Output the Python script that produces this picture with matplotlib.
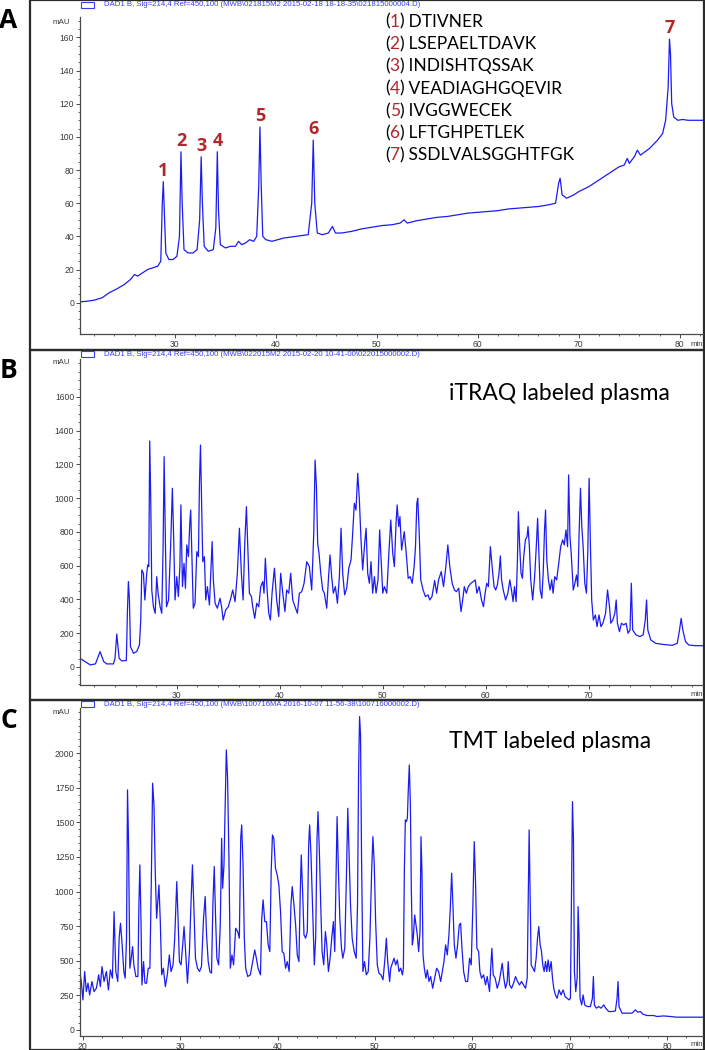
import numpy as np
import matplotlib
matplotlib.use("Agg")
import matplotlib.pyplot as plt
from matplotlib.patches import Rectangle
from matplotlib.ticker import MultipleLocator

# ---------------- data ----------------
# Panel A: standard peptide mix (time [min], absorbance [mAU])
trace_A = [
    (20.6, 0.5), (21.2, 0.8), (22.0, 1.5), (22.8, 3), (23.5, 6), (24.3, 8.5), (25.0, 11),
    (25.6, 14), (26.0, 17), (26.3, 16), (26.8, 18), (27.3, 20), (27.8, 21), (28.3, 22),
    (28.6, 25), (28.75, 60), (28.85, 73), (28.95, 55), (29.1, 30), (29.4, 26), (29.8, 26),
    (30.2, 28), (30.45, 40), (30.6, 91), (30.72, 60), (30.9, 32), (31.3, 30), (31.8, 30),
    (32.2, 32), (32.45, 50), (32.6, 88), (32.72, 60), (32.9, 34), (33.3, 31), (33.8, 32),
    (34.05, 45), (34.2, 91), (34.32, 55), (34.5, 35), (35.0, 33), (35.5, 34), (36.0, 34),
    (36.3, 37), (36.6, 35), (37.0, 36), (37.4, 38), (37.8, 37), (38.1, 40), (38.3, 70),
    (38.42, 106), (38.55, 70), (38.7, 40), (39.0, 38), (39.6, 37), (40.2, 38), (40.8, 39),
    (41.4, 39.5), (42.0, 40), (42.6, 40.5), (43.2, 41), (43.55, 60), (43.7, 98), (43.85, 60),
    (44.1, 42), (44.6, 41), (45.2, 42), (45.6, 46), (45.9, 42), (46.5, 42), (47.5, 43),
    (48.5, 44.5), (49.5, 45.5), (50.5, 46.5), (51.5, 47), (52.3, 48), (52.7, 50), (53.0, 48),
    (54.0, 49.5), (55.0, 50.5), (56.0, 51.5), (57.0, 52), (58.0, 53), (59.0, 54), (60.0, 54.5),
    (61.0, 55), (62.0, 55.5), (63.0, 56.5), (64.0, 57), (65.0, 57.5), (66.0, 58), (67.0, 59),
    (67.7, 60), (68.0, 72), (68.15, 75), (68.35, 65), (68.8, 63), (69.5, 65), (70.0, 67),
    (71.0, 70), (72.0, 74), (73.0, 78), (74.0, 82), (74.5, 83), (74.8, 87), (75.0, 84),
    (75.5, 88), (75.8, 92), (76.1, 89), (77.0, 93), (77.8, 98), (78.3, 102), (78.6, 110),
    (78.85, 130), (78.98, 159), (79.08, 150), (79.2, 120), (79.4, 112), (79.8, 110),
    (80.3, 110.5), (80.8, 110), (81.5, 110), (82.3, 110),
]

# Panel B: iTRAQ labeled plasma
trace_B = [
    (20.6, 51), (21.6, 12), (22.1, 18), (22.55, 91), (22.9, 32), (23.2, 18), (23.85, 18),
    (24.0, 51), (24.17, 195), (24.4, 51), (24.65, 36), (25.1, 38), (25.2, 318), (25.3, 506),
    (25.4, 397), (25.5, 120), (25.8, 81), (26.1, 91), (26.37, 130), (26.5, 278), (26.6, 575),
    (26.76, 555), (26.9, 397), (27.08, 555), (27.18, 605), (27.28, 595), (27.37, 1339),
    (27.47, 990), (27.57, 456), (27.73, 357), (27.9, 318), (28.05, 535), (28.18, 437),
    (28.38, 357), (28.54, 318), (28.67, 713), (28.77, 1246), (28.9, 713), (29.0, 357),
    (29.2, 397), (29.4, 713), (29.57, 1059), (29.7, 753), (29.83, 397), (30.0, 535),
    (30.15, 417), (30.3, 595), (30.4, 960), (30.55, 476), (30.7, 614), (30.84, 466),
    (30.97, 723), (31.13, 654), (31.26, 851), (31.35, 930), (31.48, 614), (31.6, 348),
    (31.77, 377), (31.94, 683), (32.1, 654), (32.2, 1088), (32.3, 1315), (32.4, 990),
    (32.52, 624), (32.68, 654), (32.81, 397), (32.97, 476), (33.17, 367), (33.3, 555),
    (33.43, 743), (33.55, 516), (33.72, 377), (33.94, 348), (34.2, 407), (34.37, 348),
    (34.5, 278), (34.75, 338), (35.0, 357), (35.24, 407), (35.43, 456), (35.66, 387),
    (35.88, 555), (36.08, 822), (36.27, 555), (36.44, 397), (36.6, 733), (36.76, 950),
    (36.89, 713), (37.05, 437), (37.25, 417), (37.37, 357), (37.57, 288), (37.76, 377),
    (37.96, 357), (38.15, 476), (38.35, 506), (38.47, 437), (38.6, 644), (38.77, 456),
    (38.93, 318), (39.09, 278), (39.25, 437), (39.48, 585), (39.7, 397), (39.9, 298),
    (40.09, 555), (40.29, 437), (40.5, 328), (40.67, 456), (40.87, 437), (41.06, 555),
    (41.26, 397), (41.48, 357), (41.71, 318), (41.9, 437), (42.13, 446), (42.36, 496),
    (42.62, 624), (42.87, 595), (43.1, 456), (43.3, 792), (43.43, 1226), (43.56, 1069),
    (43.68, 733), (43.81, 674), (43.98, 555), (44.17, 456), (44.33, 437), (44.56, 348),
    (44.72, 516), (44.88, 664), (45.04, 535), (45.2, 437), (45.4, 476), (45.6, 377),
    (45.79, 535), (45.95, 822), (46.11, 555), (46.3, 427), (46.5, 466), (46.7, 585),
    (46.92, 634), (47.08, 792), (47.24, 970), (47.4, 930), (47.57, 1148), (47.73, 990),
    (47.89, 753), (48.05, 575), (48.22, 713), (48.38, 822), (48.54, 555), (48.7, 496),
    (48.86, 624), (49.02, 437), (49.19, 535), (49.35, 437), (49.54, 516), (49.7, 812),
    (49.87, 595), (50.0, 437), (50.16, 476), (50.39, 437), (50.61, 693), (50.78, 871),
    (50.97, 674), (51.13, 595), (51.29, 851), (51.4, 960), (51.55, 832), (51.67, 891),
    (51.83, 693), (52.09, 802), (52.28, 674), (52.47, 525), (52.66, 535), (52.86, 496),
    (53.05, 595), (53.18, 713), (53.31, 970), (53.4, 999), (53.53, 812), (53.69, 516),
    (53.92, 456), (54.14, 417), (54.4, 427), (54.56, 397), (54.78, 417), (55.04, 512),
    (55.23, 437), (55.42, 516), (55.68, 565), (55.9, 476), (56.13, 595), (56.32, 723),
    (56.51, 595), (56.74, 496), (56.96, 456), (57.15, 446), (57.38, 466), (57.6, 328),
    (57.76, 397), (57.92, 476), (58.11, 437), (58.31, 476), (58.56, 496), (58.79, 506),
    (58.98, 516), (59.14, 437), (59.36, 476), (59.59, 397), (59.78, 357), (59.94, 437),
    (60.1, 496), (60.26, 476), (60.45, 713), (60.65, 575), (60.81, 476), (60.97, 456),
    (61.13, 486), (61.29, 555), (61.42, 658), (61.54, 516), (61.7, 456), (61.93, 397),
    (62.15, 437), (62.34, 516), (62.5, 456), (62.66, 387), (62.79, 476), (62.95, 387),
    (63.08, 634), (63.17, 920), (63.3, 713), (63.43, 555), (63.56, 525), (63.69, 654),
    (63.85, 753), (64.01, 772), (64.11, 832), (64.24, 713), (64.37, 516), (64.56, 397),
    (64.75, 535), (64.91, 713), (65.04, 881), (65.17, 654), (65.29, 456), (65.45, 407),
    (65.58, 555), (65.71, 812), (65.81, 930), (65.93, 634), (66.09, 516), (66.25, 456),
    (66.41, 516), (66.54, 437), (66.7, 535), (66.89, 516), (67.09, 614), (67.28, 713),
    (67.47, 753), (67.63, 723), (67.79, 812), (67.95, 713), (68.05, 1138), (68.18, 772),
    (68.3, 674), (68.5, 456), (68.66, 496), (68.82, 545), (68.94, 476), (69.07, 792),
    (69.2, 1059), (69.33, 832), (69.46, 713), (69.62, 496), (69.78, 437), (69.91, 674),
    (70.04, 1118), (70.17, 713), (70.29, 397), (70.45, 278), (70.65, 308), (70.81, 239),
    (71.0, 308), (71.19, 239), (71.38, 259), (71.64, 318), (71.83, 456), (72.02, 357),
    (72.15, 259), (72.34, 278), (72.54, 318), (72.67, 397), (72.79, 259), (72.99, 209),
    (73.18, 259), (73.4, 249), (73.63, 259), (73.82, 200), (74.01, 219), (74.14, 496),
    (74.27, 219), (74.59, 190), (74.97, 180), (75.29, 190), (75.49, 278), (75.62, 397),
    (75.74, 219), (76.03, 160), (76.51, 140), (77.15, 134), (78.11, 128), (78.6, 140),
    (78.82, 219), (78.98, 288), (79.14, 219), (79.4, 150), (79.72, 130), (80.36, 126),
    (81.16, 126),
]

# Panel C: TMT labeled plasma
trace_C = [
    (19.66, 422), (19.83, 350), (20.0, 217), (20.18, 422), (20.35, 277), (20.52, 338),
    (20.69, 253), (20.93, 350), (21.14, 277), (21.38, 301), (21.62, 398), (21.79, 313),
    (21.96, 458), (22.17, 350), (22.41, 422), (22.62, 289), (22.82, 434), (23.03, 374),
    (23.2, 855), (23.38, 422), (23.58, 350), (23.72, 663), (23.86, 771), (24.03, 615),
    (24.2, 422), (24.34, 374), (24.48, 663), (24.58, 1735), (24.68, 1385), (24.82, 446),
    (24.96, 518), (25.1, 602), (25.23, 470), (25.44, 386), (25.65, 386), (25.75, 903),
    (25.85, 1193), (25.96, 807), (26.06, 325), (26.23, 494), (26.37, 338), (26.54, 338),
    (26.71, 446), (26.88, 446), (27.02, 1048), (27.16, 1783), (27.3, 1626), (27.43, 1145),
    (27.57, 807), (27.71, 952), (27.81, 1048), (27.95, 783), (28.09, 398), (28.26, 446),
    (28.47, 313), (28.67, 398), (28.88, 542), (29.05, 422), (29.26, 470), (29.43, 663),
    (29.64, 1072), (29.77, 807), (29.91, 494), (30.08, 470), (30.25, 615), (30.39, 747),
    (30.53, 590), (30.74, 338), (30.94, 566), (31.12, 952), (31.25, 1193), (31.39, 903),
    (31.56, 518), (31.77, 446), (31.98, 422), (32.18, 458), (32.39, 807), (32.56, 964),
    (32.7, 687), (32.87, 494), (33.04, 422), (33.21, 410), (33.35, 903), (33.49, 1181),
    (33.63, 807), (33.76, 518), (33.94, 470), (34.11, 759), (34.25, 1385), (34.35, 1024),
    (34.49, 1193), (34.59, 1554), (34.73, 2024), (34.86, 1819), (35.0, 1241), (35.14, 446),
    (35.31, 542), (35.48, 470), (35.69, 735), (35.9, 711), (36.07, 663), (36.21, 1385),
    (36.31, 1482), (36.45, 1193), (36.58, 663), (36.72, 446), (36.93, 386), (37.2, 398),
    (37.44, 494), (37.65, 578), (37.82, 518), (37.99, 446), (38.24, 398), (38.37, 807),
    (38.51, 940), (38.68, 783), (38.85, 783), (39.03, 615), (39.2, 566), (39.34, 1145),
    (39.47, 1409), (39.61, 1385), (39.78, 1169), (39.96, 1120), (40.13, 1048), (40.3, 855),
    (40.47, 566), (40.64, 554), (40.82, 446), (40.99, 494), (41.19, 422), (41.37, 903),
    (41.5, 1036), (41.68, 903), (41.85, 759), (42.02, 542), (42.19, 494), (42.33, 1000),
    (42.43, 1265), (42.57, 1000), (42.71, 687), (42.88, 663), (43.05, 711), (43.19, 1337),
    (43.29, 1482), (43.43, 1265), (43.6, 855), (43.77, 470), (43.91, 663), (44.05, 1385),
    (44.15, 1578), (44.29, 1289), (44.43, 903), (44.57, 566), (44.74, 470), (44.91, 711),
    (45.05, 615), (45.22, 422), (45.39, 518), (45.56, 663), (45.73, 783), (45.87, 566),
    (46.01, 1145), (46.11, 1542), (46.25, 1145), (46.39, 807), (46.56, 590), (46.7, 518),
    (46.9, 590), (47.08, 1145), (47.21, 1602), (47.35, 1265), (47.49, 903), (47.66, 663),
    (47.87, 566), (48.07, 518), (48.21, 903), (48.32, 1867), (48.42, 2265), (48.52, 2132),
    (48.62, 1265), (48.76, 422), (48.93, 494), (49.11, 398), (49.31, 422), (49.48, 663),
    (49.66, 1145), (49.79, 1397), (49.93, 1193), (50.07, 783), (50.24, 470), (50.41, 410),
    (50.62, 398), (50.83, 362), (51.03, 518), (51.17, 663), (51.31, 494), (51.51, 350),
    (51.62, 446), (51.96, 518), (52.13, 470), (52.3, 506), (52.47, 422), (52.65, 446),
    (52.82, 398), (52.92, 446), (53.02, 1145), (53.12, 1518), (53.23, 1506), (53.33, 1530),
    (53.43, 1747), (53.53, 1915), (53.64, 1626), (53.74, 1000), (53.84, 615), (53.94, 663),
    (54.08, 831), (54.22, 759), (54.35, 687), (54.49, 566), (54.63, 711), (54.73, 1397),
    (54.83, 1145), (54.94, 542), (55.07, 446), (55.24, 374), (55.38, 434), (55.55, 350),
    (55.72, 386), (55.93, 301), (56.13, 374), (56.34, 446), (56.54, 422), (56.75, 350),
    (56.92, 422), (57.09, 494), (57.26, 615), (57.43, 542), (57.6, 687), (57.74, 879),
    (57.88, 1133), (58.01, 903), (58.15, 615), (58.32, 518), (58.49, 615), (58.66, 759),
    (58.8, 771), (58.94, 590), (59.11, 422), (59.31, 350), (59.52, 350), (59.72, 518),
    (59.89, 470), (60.06, 903), (60.2, 1361), (60.34, 1048), (60.47, 590), (60.65, 566),
    (60.78, 422), (60.95, 374), (61.16, 398), (61.36, 325), (61.53, 386), (61.77, 277),
    (61.91, 470), (62.01, 590), (62.15, 398), (62.35, 374), (62.56, 301), (62.77, 350),
    (62.94, 422), (63.07, 482), (63.24, 374), (63.41, 301), (63.59, 350), (63.69, 494),
    (63.83, 325), (64.03, 301), (64.24, 338), (64.44, 386), (64.65, 350), (64.85, 325),
    (65.06, 350), (65.26, 325), (65.47, 301), (65.64, 374), (65.74, 903), (65.84, 1446),
    (65.94, 1000), (66.05, 470), (66.22, 446), (66.39, 422), (66.56, 518), (66.7, 663),
    (66.83, 747), (66.97, 615), (67.11, 566), (67.24, 470), (67.38, 422), (67.52, 494),
    (67.65, 422), (67.79, 506), (67.93, 422), (68.1, 494), (68.24, 374), (68.37, 301),
    (68.54, 253), (68.71, 229), (68.92, 289), (69.12, 253), (69.33, 289), (69.53, 241),
    (69.74, 229), (69.94, 217), (70.08, 229), (70.18, 903), (70.29, 1650), (70.39, 1385),
    (70.49, 422), (70.63, 277), (70.77, 374), (70.87, 891), (70.97, 663), (71.07, 229),
    (71.24, 181), (71.38, 253), (71.55, 181), (71.79, 169), (72.13, 169), (72.34, 229),
    (72.44, 386), (72.54, 181), (72.75, 157), (72.99, 169), (73.23, 157), (73.5, 181),
    (73.71, 157), (74.01, 133), (74.36, 133), (74.7, 137), (74.87, 229), (74.97, 350),
    (75.07, 169), (75.38, 121), (75.89, 121), (76.41, 121), (76.75, 145), (76.99, 128),
    (77.26, 133), (77.53, 114), (77.95, 104), (78.63, 104), (78.97, 97), (79.65, 101),
    (80.34, 97), (81.02, 92), (81.7, 92), (83.93, 92),
]

A_time, A_mau = np.array(trace_A).T
B_time, B_mau = np.array(trace_B).T
C_time, C_mau = np.array(trace_C).T

peak_ids = ["1", "2", "3", "4", "5", "6", "7"]
peak_rt = [28.85, 30.6, 32.6, 34.2, 38.42, 43.7, 78.98]
peptides = ["DTIVNER", "LSEPAELTDAVK", "INDISHTQSSAK", "VEADIAGHGQEVIR",
            "IVGGWECEK", "LFTGHPETLEK", "SSDLVALSGGHTFGK"]

headers = [
    r"DAD1 B, Sig=214,4 Ref=450,100 (MWB\021815M2 2015-02-18 18-18-35\021815000004.D)",
    r"DAD1 B, Sig=214,4 Ref=450,100 (MWB\022015M2 2015-02-20 10-41-00\022015000002.D)",
    r"DAD1 B, Sig=214,4 Ref=450,100 (MWB\100716MA 2016-10-07 11-56-38\100716000002.D)",
]
panel_letters = ["A", "B", "C"]
panel_titles = [None, "iTRAQ labeled plasma", "TMT labeled plasma"]

# ---------------- layout ----------------
W, H = 705, 1050
fig = plt.figure(figsize=(W / 100, H / 100), dpi=100)
fig.patch.set_facecolor("white")

def fx(p):
    return p / W

def fy(p):
    return 1 - p / H

BLUE = "#1c1cf2"
HEAD_BLUE = "#3a3aff"
RED = "#b3262b"
TICKC = "#3a3a3a"
TICKFONT = "Liberation Sans"
LABFONT = "Lato"

# panel frames (top, bottom in px)
frames = [(0, 350), (350, 700), (700, 1050)]
for (t, b) in frames:
    fig.add_artist(Rectangle((fx(30), fy(b)), fx(704) - fx(30), fy(t) - fy(b),
                             transform=fig.transFigure, fill=False,
                             ec="#2b2b2b", lw=1.6, zorder=0))

# axes boxes (top, bottom px) and limits
ax_boxes = [(17, 334), (359, 685), (708, 1036)]
xlims = [(20.6, 82.3), (20.6, 81.1), (19.7, 83.7)]
ylims = [(-18.9, 172.3), (-107, 1825), (-44, 2327)]
ymaj = [20, 200, 250]
ymin_step = [5, 50, 50]
ytop_label = [160, 1600, 2000]
xticks_lab = [
    [30, 40, 50, 60, 70, 80],
    [30, 40, 50, 60, 70],
    [20, 30, 40, 50, 60, 70, 80],
]
traces = [(A_time, A_mau), (B_time, B_mau), (C_time, C_mau)]

axes = []
for i in range(3):
    top, bot = ax_boxes[i]
    ax = fig.add_axes([fx(80), fy(bot), fx(703) - fx(80), fy(top) - fy(bot)])
    ax.set_facecolor("none")
    t, v = traces[i]
    ax.plot(t, v, color=BLUE, lw=0.9, solid_joinstyle="round")
    ax.set_xlim(*xlims[i])
    ax.set_ylim(*ylims[i])
    for s in ("top", "right"):
        ax.spines[s].set_visible(False)
    for s in ("left", "bottom"):
        ax.spines[s].set_color("#4a4a4a")
        ax.spines[s].set_linewidth(0.9)
    yt = np.arange(0, ytop_label[i] + 1, ymaj[i])
    ax.set_yticks(yt)
    ax.set_yticklabels([str(int(y)) for y in yt])
    ax.yaxis.set_minor_locator(MultipleLocator(ymin_step[i]))
    ax.set_xticks(xticks_lab[i])
    ax.set_xticklabels([str(x) for x in xticks_lab[i]])
    ax.xaxis.set_minor_locator(MultipleLocator(2))
    ax.tick_params(which="major", direction="out", length=2.6, width=0.7,
                   color="#4a4a4a", labelsize=6.2, labelcolor=TICKC, pad=1.6)
    ax.tick_params(which="minor", direction="out", length=1.6, width=0.6,
                   color="#4a4a4a")
    for lab in ax.get_xticklabels() + ax.get_yticklabels():
        lab.set_fontfamily(TICKFONT)
    axes.append(ax)

# mAU / min labels, header lines, panel letters, titles
mau_y = [22, 362, 712]
min_y = [344, 694, 1044]
head_y = [5, 354, 704]
letter_y = [20, 370, 720]
for i in range(3):
    fig.text(fx(70), fy(mau_y[i]), "mAU", ha="right", va="center",
             fontsize=5.8, color=TICKC, family=TICKFONT)
    fig.text(fx(691), fy(min_y[i]), "min", ha="left", va="center",
             fontsize=5.6, color=TICKC, family=TICKFONT)
    fig.add_artist(Rectangle((fx(81), fy(head_y[i] + 3)), fx(94) - fx(81), fy(head_y[i] - 3) - fy(head_y[i] + 3),
                             transform=fig.transFigure, fill=False, ec=HEAD_BLUE, lw=0.8))
    fig.text(fx(104), fy(head_y[i]), headers[i], ha="left", va="center",
             fontsize=5.6, color=HEAD_BLUE, family=TICKFONT)
    fig.text(fx(8.5), fy(letter_y[i]), panel_letters[i], ha="center", va="center",
             fontsize=19, fontweight="bold", color="black", family="Open Sans")
    if panel_titles[i]:
        fig.text(fx(449), fy(393 if i == 1 else 741), panel_titles[i], ha="left",
                 va="center", fontsize=16.5, color="black", family=LABFONT)

# peak numbers in panel A
axA = axes[0]
for pid, rt in zip(peak_ids, peak_rt):
    h = np.interp(rt, A_time, A_mau)
    axA.annotate(pid, xy=(rt, h), xytext=(0, 1.5), textcoords="offset points",
                 ha="center", va="bottom", fontsize=13, fontweight="bold",
                 color=RED, family="Open Sans")

# peptide legend in panel A
renderer = fig.canvas.get_renderer()
inv = fig.transFigure.inverted()
for k, (pid, pep) in enumerate(zip(peak_ids, peptides)):
    ypx = 21.7 + 22.3 * k
    x = fx(385)
    for s, c in (("(", "black"), (pid, RED), (")", "black"), (" " + pep, "black")):
        txt = fig.text(x, fy(ypx), s, ha="left", va="center", fontsize=12.5,
                       color=c, family=LABFONT)
        bb = txt.get_window_extent(renderer)
        x = inv.transform((bb.x1, bb.y0))[0]

fig.savefig("out.png", dpi=100, facecolor="white")
